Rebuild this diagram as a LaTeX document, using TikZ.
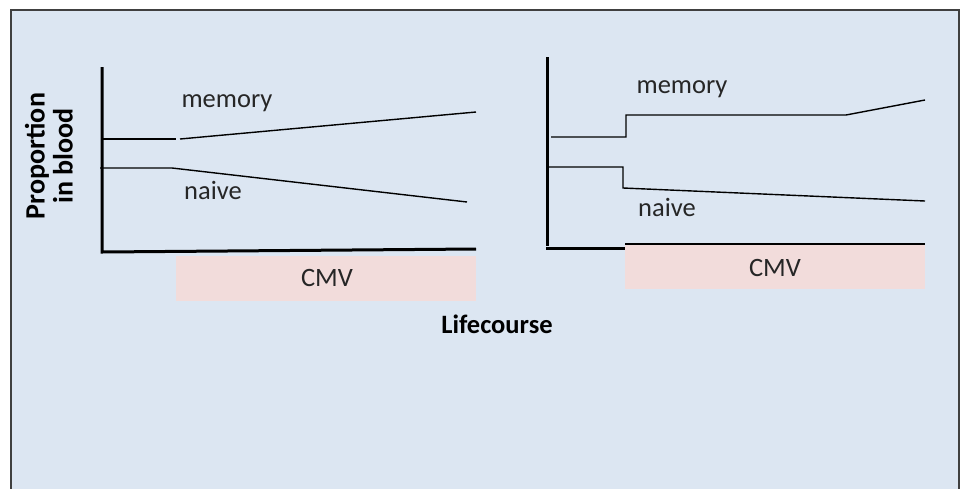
\documentclass[tikz,border=0pt]{standalone}
\usepackage{fontspec}
\setmainfont{Carlito}
\definecolor{bgblue}{HTML}{DCE6F2}
\definecolor{cmvpink}{HTML}{F2DCDB}
\definecolor{frame}{HTML}{404040}
\definecolor{ink}{HTML}{262626}
\tikzset{
  lbl/.style={font=\fontsize{26.5}{30}\selectfont, text=ink, inner sep=0pt},
  blbl/.style={font=\fontsize{26.5}{28}\selectfont\bfseries, text=black, inner sep=0pt, align=center},
  axisline/.style={line width=3pt, black},
  curve/.style={line width=1.4pt, black},
  cmvbox/.style={fill=cmvpink, draw=none}
}
\begin{document}
\begin{tikzpicture}[x=1pt,y=-1pt]
\useasboundingbox (0,0) rectangle (960,488);
\fill[white] (0,0) rectangle (960,488);
\filldraw[fill=bgblue, draw=frame, line width=1.5pt] (11,10) -- (959,10) -- (959,492) -- (11,492) -- cycle;

% left graph
\fill[cmvbox] (176,256) rectangle (476,301);
\node[lbl] (cmvL) at (327,278) {CMV};
\coordinate (yLtop) at (102,67);
\coordinate (oL) at (102,252);
\coordinate (xLend) at (476,249);
\draw[axisline] (yLtop) -- (oL) -- (xLend);
\coordinate (mL0) at (102,139);
\coordinate (mL1) at (176,139);
\coordinate (mL2) at (180,139);
\coordinate (mL3) at (476,112);
\draw[curve] (mL0) -- (mL1);
\draw[curve] (mL2) -- (mL3);
\coordinate (nL0) at (100,168);
\coordinate (nL1) at (172,168);
\coordinate (nL2) at (467,202);
\draw[curve] (nL0) -- (nL1) -- (nL2);
\node[lbl] (memL) at (227,103) {memory};
\node[lbl] (naiL) at (213,190) {naive};

% right graph
\fill[cmvbox] (625,245) rectangle (925,289);
\node[lbl] (cmvR) at (775,268) {CMV};
\coordinate (yRtop) at (547,57);
\coordinate (yRbot) at (547,246);
\draw[axisline] (yRtop) -- (yRbot);
\coordinate (xR0) at (546,248);
\coordinate (xR1) at (625,248);
\draw[axisline] (xR0) -- (xR1);
\coordinate (xR2) at (625,244);
\coordinate (xR3) at (925,244);
\draw[curve] (xR2) -- (xR3);
\coordinate (mR0) at (551,137);
\coordinate (mR1) at (626,137);
\coordinate (mR2) at (626,115);
\coordinate (mR3) at (846,115);
\coordinate (mR4) at (925,100);
\draw[curve] (mR0) -- (mR1) -- (mR2) -- (mR3) -- (mR4);
\coordinate (nR0) at (549,167);
\coordinate (nR1) at (623,167);
\coordinate (nR2) at (623,188);
\coordinate (nR3) at (925,201);
\draw[curve] (nR0) -- (nR1) -- (nR2) -- (nR3);
\node[lbl] (memR) at (682,89) {memory};
\node[lbl] (naiR) at (667,207) {naive};

% axis titles
\node[blbl, rotate=90] (ytitle) at (49,156) {\fontsize{28}{28}\selectfont Proportion\\\fontsize{28}{28}\selectfont in blood};
\node[blbl] (xtitle) at (497,324) {Lifecourse};
\end{tikzpicture}
\end{document}
